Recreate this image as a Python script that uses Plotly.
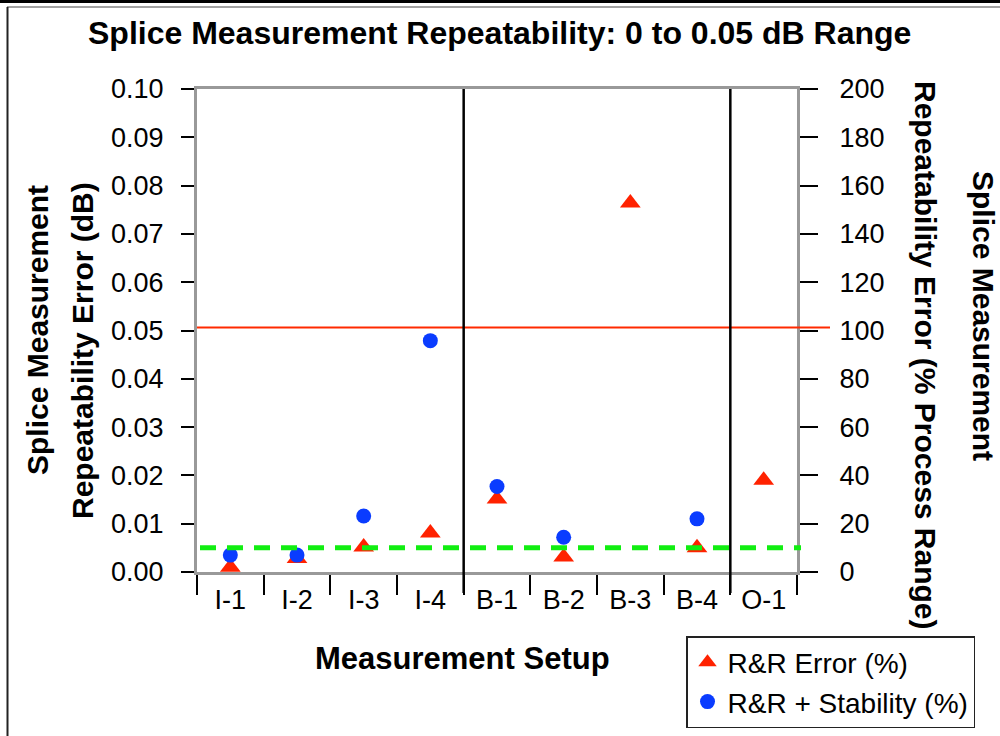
import plotly.graph_objects as go

# ---- data ----
categories = ["I-1", "I-2", "I-3", "I-4", "B-1", "B-2", "B-3", "B-4", "O-1"]
rr_error = [0.0010, 0.0028, 0.0052, 0.0081, 0.0151, 0.0031, 0.0764, 0.0050, 0.0190]
rr_stability = [0.0035, 0.0035, 0.0116, 0.0479, 0.0177, 0.0072, None, 0.0110, None]
y_left_ticks = [0.00, 0.01, 0.02, 0.03, 0.04, 0.05, 0.06, 0.07, 0.08, 0.09, 0.10]
y_right_ticks = [0, 20, 40, 60, 80, 100, 120, 140, 160, 180, 200]
range_limit = 0.0506      # red reference line (0.05 dB range)
target_line = 0.005       # green dashed target
separators = [3.5, 7.5]   # category boundaries with black dividers

FONT = "Liberation Sans, Arial, sans-serif"

# pixel layout helpers
L, R, T, B = 197, 797, 89, 572
W, H = R - L, B - T
def px(x):
    return (x - L) / W
def py(y):
    return (B - y) / H

fig = go.Figure()
fig.add_trace(go.Scatter(
    x=categories, y=rr_error, mode="markers", name="R&R Error (%)",
    marker=dict(symbol="triangle-up", size=18, color="#ff2200"),
    legendgroup="a",
))
fig.add_trace(go.Scatter(
    x=categories, y=rr_stability, mode="markers", name="R&R + Stability (%)",
    marker=dict(symbol="circle", size=15, color="#0a3cff"),
    legendgroup="b",
))
# invisible trace to anchor the right axis
fig.add_trace(go.Scatter(
    x=categories, y=[v / 0.05 * 100 for v in rr_error], yaxis="y2",
    mode="markers", marker=dict(opacity=0), showlegend=False, hoverinfo="skip",
))

shapes = []
# red range line (extends past right axis)
shapes.append(dict(type="line", xref="paper", yref="y", x0=0, x1=px(830),
                   y0=range_limit, y1=range_limit,
                   line=dict(color="#ff2a00", width=2)))
# green dashed target
shapes.append(dict(type="line", xref="paper", yref="y", x0=px(200), x1=px(801),
                   y0=target_line, y1=target_line,
                   line=dict(color="#11ee11", width=5, dash="16px,11px")))
# black separators
for s in separators:
    shapes.append(dict(type="line", xref="x", yref="paper", x0=s, x1=s,
                       y0=py(593), y1=1, line=dict(color="black", width=2.5)))
# outer frame
shapes.append(dict(type="line", xref="paper", yref="paper", x0=px(0), x1=px(1000),
                   y0=py(1.5), y1=py(1.5), line=dict(color="black", width=3)))
shapes.append(dict(type="line", xref="paper", yref="paper", x0=px(7), x1=px(1000),
                   y0=py(7), y1=py(7), line=dict(color="#444", width=1)))
shapes.append(dict(type="line", xref="paper", yref="paper", x0=px(7.5), x1=px(7.5),
                   y0=py(7), y1=py(736), line=dict(color="#222", width=2)))

annotations = [
    dict(text="<b>Splice Measurement Repeatability: 0 to 0.05 dB Range</b>",
         xref="paper", yref="paper", x=px(499), y=py(33), showarrow=False,
         font=dict(family=FONT, size=32, color="black"), xanchor="center", yanchor="middle"),
    dict(text="<b>Measurement Setup</b>",
         xref="paper", yref="paper", x=px(462), y=py(658), showarrow=False,
         font=dict(family=FONT, size=31, color="black"), xanchor="center", yanchor="middle"),
    dict(text="<b>Splice Measurement</b>", textangle=-90,
         xref="paper", yref="paper", x=px(37), y=py(330), showarrow=False,
         font=dict(family=FONT, size=30, color="black"), xanchor="center", yanchor="middle"),
    dict(text="<b>Repeatability Error (dB)</b>", textangle=-90,
         xref="paper", yref="paper", x=px(82), y=py(350), showarrow=False,
         font=dict(family=FONT, size=30, color="black"), xanchor="center", yanchor="middle"),
    dict(text="<b>Splice Measurement</b>", textangle=90,
         xref="paper", yref="paper", x=px(984), y=py(316), showarrow=False,
         font=dict(family=FONT, size=30, color="black"), xanchor="center", yanchor="middle"),
    dict(text="<b>Repeatability Error (% Process Range)</b>", textangle=90,
         xref="paper", yref="paper", x=px(926), y=py(355), showarrow=False,
         font=dict(family=FONT, size=30, color="black"), xanchor="center", yanchor="middle"),
]

fig.update_layout(
    width=1000, height=736,
    margin=dict(l=L, r=1000 - R, t=T, b=736 - B, autoexpand=False),
    paper_bgcolor="white", plot_bgcolor="white",
    font=dict(family=FONT, size=27, color="black"),
    showlegend=True,
    legend=dict(x=px(686), y=py(636), xanchor="left", yanchor="top",
                bgcolor="white", bordercolor="#222", borderwidth=1.5,
                font=dict(family=FONT, size=28, color="black"),
                tracegroupgap=0, traceorder="grouped"),
    xaxis=dict(type="category", categoryorder="array", categoryarray=categories,
               range=[-0.5, len(categories) - 0.5],
               showline=True, linecolor="#999", linewidth=3, mirror=True,
               ticks="outside", tickson="boundaries", ticklen=20, tickwidth=2,
               tickcolor="black", showgrid=False, zeroline=False,
               tickfont=dict(family=FONT, size=27), ticklabelstandoff=2),
    yaxis=dict(range=[0, 0.10], tickvals=y_left_ticks, tickformat=".2f",
               showline=True, linecolor="#999", linewidth=3,
               ticks="outside", ticklen=13, tickwidth=2, tickcolor="black",
               showgrid=False, zeroline=False,
               tickfont=dict(family=FONT, size=27), ticklabelstandoff=12),
    yaxis2=dict(range=[0, 200], tickvals=y_right_ticks, overlaying="y", side="right",
                showline=True, linecolor="#999", linewidth=3,
                ticks="outside", ticklen=18, tickwidth=2, tickcolor="black",
                showgrid=False, zeroline=False,
                tickfont=dict(family=FONT, size=27), ticklabelstandoff=16),
    shapes=shapes, annotations=annotations,
)

fig.write_html("out.html", config={"displayModeBar": False},
               post_script="document.body.style.margin='0';document.body.style.overflow='hidden';")
